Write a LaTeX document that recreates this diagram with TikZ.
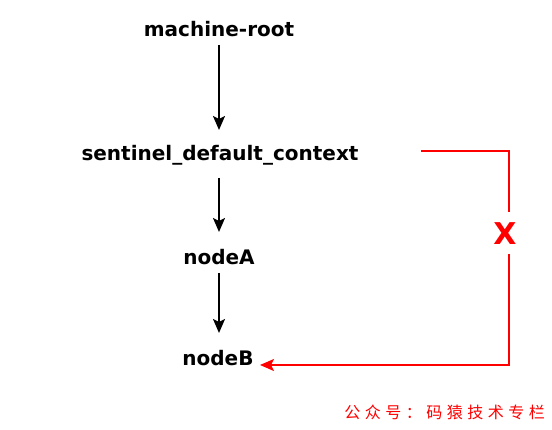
\documentclass[tikz,border=0pt]{standalone}
\usepackage{fontspec}
\setmainfont{DejaVu Sans}
\newfontfamily\cjkfont{Noto Sans CJK SC}
\usetikzlibrary{arrows.meta}
\newcommand{\wmtext}{公\hspace{4.5pt}众\hspace{4.5pt}号\hspace{4.5pt}：\hspace{4.5pt}码\hspace{4.5pt}猿\hspace{4.5pt}技\hspace{4.5pt}术\hspace{4.5pt}专\hspace{4.5pt}栏}
\begin{document}
\begin{tikzpicture}[x=1pt,y=-1pt,
  lbl/.style={font=\fontsize{20}{23}\selectfont\bfseries, inner sep=0pt, anchor=center},
  blk/.style={draw=black, line width=2pt, -{Stealth[length=14pt,width=12pt,inset=3pt]}},
  redln/.style={draw=red, line width=1.6pt},
  redarr/.style={redln, -{Stealth[length=14pt,width=12pt,inset=3pt]}}]
\useasboundingbox[fill=white] (0,0) rectangle (552,430);
\node[lbl] (mr) at (219,29) {machine-root};
\node[lbl] (sdc) at (220,155) {sentinel\_default\_context};
\node[lbl] (na) at (219,257) {nodeA};
\node[lbl] (nb) at (218,358) {nodeB};
\node[text=red, font=\fontsize{30}{30}\selectfont\bfseries, inner sep=0pt] (xm) at (505,234) {X};
\node[text=red, font=\cjkfont\fontsize{16}{16}\selectfont, inner sep=0pt, anchor=east] (wm) at (545,412) {\wmtext};
\draw[blk] (219,45) -- (219,130);
\draw[blk] (219,178) -- (219,232);
\draw[blk] (219,273) -- (219,333);
\coordinate (r1) at (421,151);
\coordinate (r2) at (509,151);
\coordinate (r3) at (509,212);
\coordinate (r4) at (509,254);
\coordinate (r5) at (509,365);
\coordinate (r6) at (260,365);
\draw[redln] (r1) -- (r2) -- (r3);
\draw[redarr] (r4) -- (r5) -- (r6);
\end{tikzpicture}
\end{document}
